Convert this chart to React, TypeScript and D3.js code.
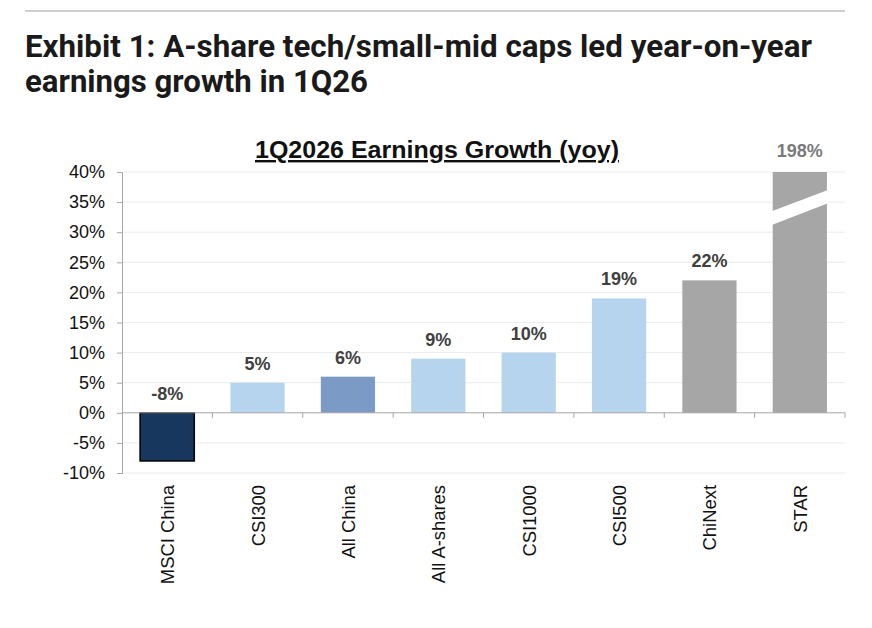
import { useEffect, useRef } from "react";
import * as d3 from "d3";

const categories = ["MSCI China", "CSI300", "All China", "All A-shares", "CSI1000", "CSI500", "ChiNext", "STAR"];
const growth = [-8, 5, 6, 9, 10, 19, 22, 198];
const valueLabels = ["-8%", "5%", "6%", "9%", "10%", "19%", "22%", "198%"];
const barColors = ["#17375e", "#b7d4ee", "#7b9bc6", "#b7d4ee", "#b7d4ee", "#b7d4ee", "#a6a6a6", "#a6a6a6"];
const yTicks = [-10, -5, 0, 5, 10, 15, 20, 25, 30, 35, 40];

export default function App() {
  const ref = useRef<SVGSVGElement | null>(null);

  useEffect(() => {
    if (!ref.current) return;
    const svg = d3.select(ref.current);
    svg.selectAll("*").remove();

    const width = 872;
    const height = 628;
    const margin = { top: 172, right: 27, bottom: 155, left: 122 };
    const font = "'Liberation Sans', Arial, sans-serif";

    svg.append("rect").attr("width", width).attr("height", height).attr("fill", "#fff");

    // header rule + headline
    svg.append("line")
      .attr("x1", 25).attr("x2", 845).attr("y1", 11).attr("y2", 11)
      .attr("stroke", "#bdbdbd").attr("stroke-width", 1.5);

    const head = svg.append("text")
      .attr("font-family", "Roboto, sans-serif")
      .attr("font-weight", 700)
      .attr("font-size", 32)
      .attr("fill", "#1a1a1a");
    head.append("tspan").attr("x", 25).attr("y", 57)
      .attr("textLength", 787).attr("lengthAdjust", "spacingAndGlyphs")
      .text("Exhibit 1: A-share tech/small-mid caps led year-on-year");
    head.append("tspan").attr("x", 25).attr("y", 92)
      .attr("textLength", 343).attr("lengthAdjust", "spacingAndGlyphs")
      .text("earnings growth in 1Q26");

    const x = d3.scaleBand()
      .domain(categories)
      .range([margin.left, width - margin.right])
      .paddingInner(0.4)
      .paddingOuter(0.2);

    const y = d3.scaleLinear()
      .domain([-10, 40])
      .range([height - margin.bottom, margin.top]);

    const step = x.step();
    const bw = x.bandwidth();
    const left = margin.left;
    const right = width - margin.right;

    // gridlines
    svg.append("g")
      .selectAll("line")
      .data(yTicks.filter((t) => t !== 0))
      .join("line")
      .attr("x1", left).attr("x2", right)
      .attr("y1", (d) => y(d)).attr("y2", (d) => y(d))
      .attr("stroke", "#ececec").attr("stroke-width", 1);

    // y axis
    const yAxis = svg.append("g")
      .attr("transform", `translate(${left},0)`)
      .call(d3.axisLeft(y).tickValues(yTicks).tickFormat((d) => `${d}%`).tickSize(5).tickPadding(12));
    yAxis.select(".domain").attr("stroke", "#a6a6a6");
    yAxis.selectAll(".tick line").attr("stroke", "#a6a6a6");
    yAxis.selectAll("text")
      .attr("font-family", font)
      .attr("font-size", 18)
      .attr("fill", "#111");

    // bars
    svg.append("g")
      .selectAll("rect")
      .data(categories)
      .join("rect")
      .attr("x", (d) => x(d) ?? 0)
      .attr("width", bw)
      .attr("y", (d, i) => y(Math.min(40, Math.max(0, growth[i]))))
      .attr("height", (d, i) => Math.abs(y(Math.min(40, growth[i])) - y(0)))
      .attr("fill", (d, i) => barColors[i])
      .attr("stroke", (d, i) => (i === 0 ? "#000" : "none"))
      .attr("stroke-width", 1.5);

    // break mark on the clipped STAR bar
    const sx = x("STAR") ?? 0;
    svg.append("path")
      .attr("d", `M${sx - 1},${y(33.5)} L${sx + bw + 1},${y(37)} L${sx + bw + 1},${y(34.8)} L${sx - 1},${y(31.2)} Z`)
      .attr("fill", "#fff");

    // zero axis + category ticks
    svg.append("line")
      .attr("x1", left).attr("x2", right).attr("y1", y(0)).attr("y2", y(0))
      .attr("stroke", "#a6a6a6");
    svg.append("g")
      .selectAll("line")
      .data(d3.range(1, categories.length + 1))
      .join("line")
      .attr("x1", (i) => left + i * step).attr("x2", (i) => left + i * step)
      .attr("y1", y(0)).attr("y2", y(0) + 5)
      .attr("stroke", "#a6a6a6");

    // value labels
    svg.append("g")
      .selectAll("text")
      .data(categories)
      .join("text")
      .attr("x", (d) => (x(d) ?? 0) + bw / 2)
      .attr("y", (d, i) => (growth[i] >= 40 ? y(40) - 15 : y(Math.max(0, growth[i])) - 13))
      .attr("text-anchor", "middle")
      .attr("font-family", font)
      .attr("font-weight", 700)
      .attr("font-size", 18)
      .attr("fill", (d, i) => (growth[i] >= 40 ? "#7a7a7a" : "#404040"))
      .text((d, i) => valueLabels[i]);

    // category labels
    svg.append("g")
      .selectAll("text")
      .data(categories)
      .join("text")
      .attr("transform", (d) => `translate(${(x(d) ?? 0) + bw / 2 + 7},${y(-10) + 12}) rotate(-90)`)
      .attr("text-anchor", "end")
      .attr("font-family", font)
      .attr("font-size", 18.4)
      .attr("fill", "#111")
      .text((d) => d);

    // chart title
    svg.append("text")
      .attr("x", 437)
      .attr("y", 158)
      .attr("text-anchor", "middle")
      .attr("font-family", font)
      .attr("font-weight", 700)
      .attr("font-size", 24)
      .attr("textLength", 364)
      .attr("lengthAdjust", "spacingAndGlyphs")
      .attr("text-decoration", "underline")
      .attr("fill", "#111")
      .text("1Q2026 Earnings Growth (yoy)");
  }, []);

  return (
    <svg
      ref={ref}
      width={872}
      height={628}
      style={{ position: "absolute", left: 0, top: 0, display: "block" }}
    />
  );
}
